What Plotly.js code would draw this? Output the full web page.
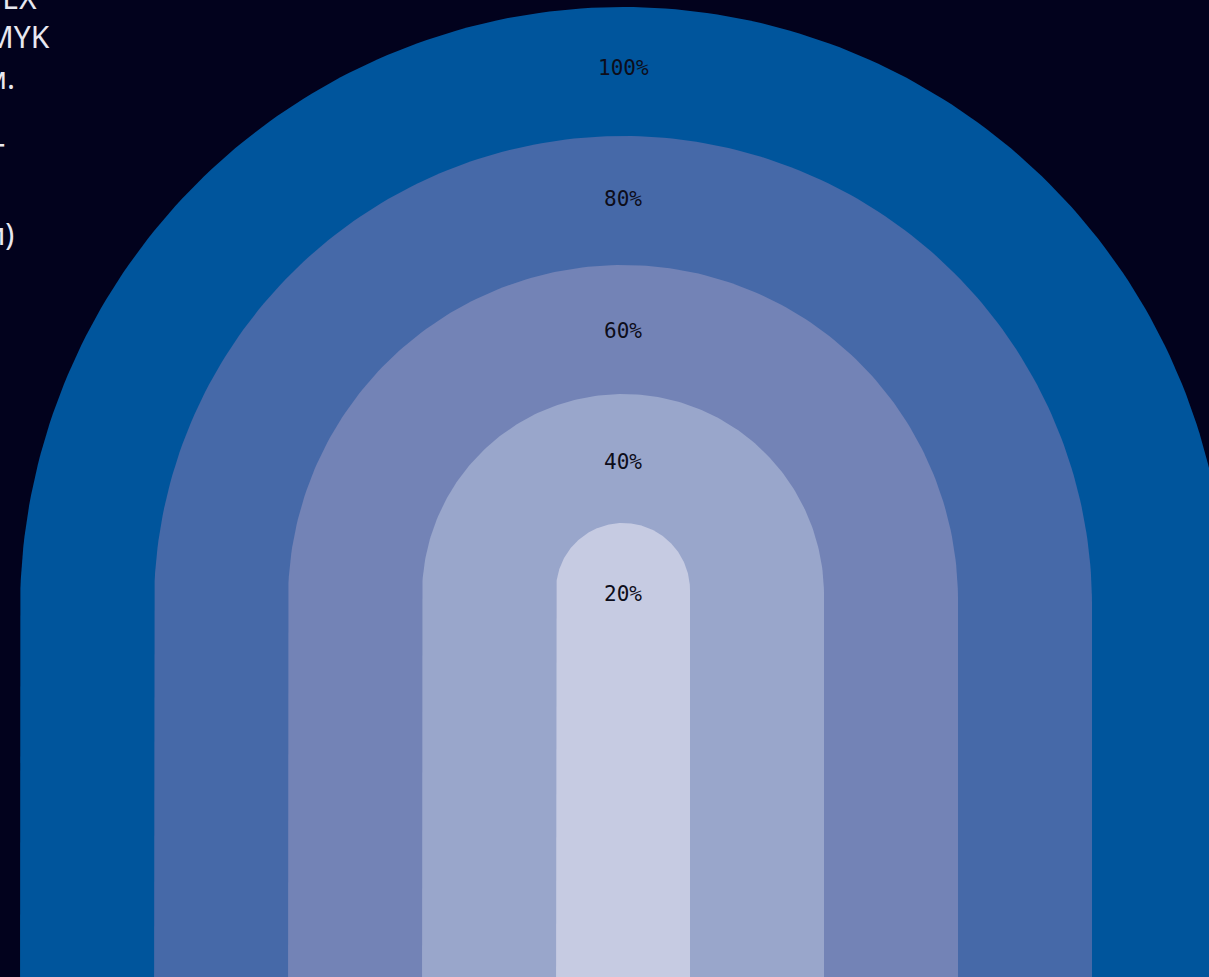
<!DOCTYPE html>
<html>
<head>
<meta charset="utf-8">
<script src="https://cdn.plot.ly/plotly-3.0.1.min.js"></script>
<style>
  html, body { margin: 0; padding: 0; background: #02021d; }
  #chart { width: 1209px; height: 977px; }
</style>
</head>
<body>
<div id="chart"></div>
<script>
// ---- data ----
const levels = [100, 80, 60, 40, 20];
const levelLabels = ['100%', '80%', '60%', '40%', '20%'];
const noteLines = [
  'Цветовая палитра: коды HEX',
  'и значения CMYK',
  'приведены в таблице, см.',
  'ниже.',
  'Оттенки в стандарте ГОСТ',
  'с заливкой',
  '(по уровню насыщенности)'
];

// ---- styles / geometry ----
const bandColors = ['#00559c', '#4669a8', '#7383b6', '#99a6cb', '#c6cbe2'];
const noteEnds = [38, 51, 16, -40, 6, -40, 15];        // px, right end of each note line
const noteCenters = [-3, 37, 77, 116, 154, 194, 233];  // px, vertical centre of each line
const W = 1209, H = 977;
const xRange = [-623 / 134, 586 / 134];
const yRange = [-50.39, 101.09];
const floorVal = -60;                 // arches run down past the bottom edge
const pxPerX = W / (xRange[1] - xRange[0]);
const pxPerY = H / (yRange[1] - yRange[0]);

// Each arch: straight sides with a semicircular top (round in screen pixels),
// its top at the level's value, width growing with its rank.
const traces = levels.map((v, i) => {
  const half = (2 * (levels.length - 1 - i) + 1) / 2;   // x units
  const ry = half * pxPerX / pxPerY;                     // y units for a round top
  const yc = v - ry;
  const xs = [-half], ys = [floorVal];
  const N = 180;
  for (let k = 0; k <= N; k++) {
    const a = Math.PI - Math.PI * k / N;
    xs.push(half * Math.cos(a));
    ys.push(yc + ry * Math.sin(a));
  }
  xs.push(half); ys.push(floorVal);
  return {
    type: 'scatter', mode: 'lines', x: xs, y: ys,
    fill: 'toself', fillcolor: bandColors[i],
    line: { width: 0, color: bandColors[i] },
    hoverinfo: 'skip', showlegend: false
  };
});

const annotations = levels.map((v, i) => ({
  x: 0, y: v * 1.02 - 11.4, xref: 'x', yref: 'y',
  text: levelLabels[i], showarrow: false,
  xanchor: 'center', yanchor: 'middle',
  font: { family: 'DejaVu Sans Mono, monospace', size: 21, color: '#0d0d1a' }
}));

noteLines.forEach((t, i) => {
  annotations.push({
    x: noteEnds[i] / W, y: 1 - noteCenters[i] / H, xref: 'paper', yref: 'paper',
    text: t, showarrow: false, xanchor: 'right', yanchor: 'middle', align: 'left',
    borderpad: 0,
    font: { family: 'Noto Sans, sans-serif', size: 30, color: '#e8e8f0' }
  });
});

const layout = {
  width: W, height: H,
  margin: { l: 0, r: 0, t: 0, b: 0, pad: 0 },
  paper_bgcolor: '#02021d',
  plot_bgcolor: '#02021d',
  showlegend: false,
  xaxis: { range: xRange, visible: false, fixedrange: true },
  yaxis: { range: yRange, visible: false, fixedrange: true },
  annotations: annotations
};

Plotly.newPlot('chart', traces, layout, { staticPlot: true, displayModeBar: false });
</script>
</body>
</html>
